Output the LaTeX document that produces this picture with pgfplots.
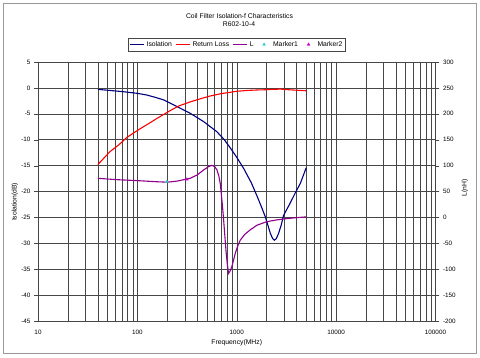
\documentclass[border=0pt]{standalone}
\usepackage{pgfplots}
\pgfplotsset{compat=1.18}
\usepackage{fontspec}
\setmainfont{Liberation Sans}
\definecolor{isoc}{RGB}{0,0,128}
\definecolor{rlc}{RGB}{255,0,0}
\definecolor{lc}{RGB}{140,0,140}
\definecolor{mkone}{RGB}{51,204,204}
\definecolor{mktwo}{RGB}{204,0,204}
\definecolor{gridc}{RGB}{70,70,70}
\pgfplotsset{shortline/.style={legend image code/.code={\draw[##1] (0pt,0pt) -- (14pt,0pt);}},
  markimg/.style={legend image code/.code={\path[draw=none,fill=none] (0pt,0pt) rectangle (14pt,0pt);\draw[##1] plot coordinates {(7pt,0pt)};}}}
\begin{document}
\begin{tikzpicture}[font=\fontsize{6.8}{8}\selectfont]
\path[use as bounding box] (0,0) rectangle (480pt,357pt);
\draw[gray!80, line width=0.8pt] (3pt,4pt) rectangle (476pt,354pt);
\node at (239.5pt,341.3pt) {Coil Filter Isolation-f Characteristics};
\node at (239pt,333pt) {R602-10-4};
\begin{axis}[at={(38pt,36pt)}, anchor=south west, scale only axis,
  width=397.5pt, height=259pt,
  xmode=log, log basis x=10, xmin=10, xmax=100000, ymin=-45, ymax=5,
  xtick={10,100,1000,10000,100000}, xticklabels={10,100,1000,10000,100000},
  minor xtick={20,30,40,50,60,70,80,90,200,300,400,500,600,700,800,900,
    2000,3000,4000,5000,6000,7000,8000,9000,20000,30000,40000,50000,60000,70000,80000,90000},
  ytick={-45,-40,...,5},
  yticklabels={-45,-40,-35,-30,-25,-20,-15,-10,-5,0,5},
  grid=both,
  major grid style={gridc, line width=0.5pt},
  minor grid style={gridc, line width=0.5pt},
  axis line style={gridc},
  tick align=outside, major tick length=4pt, minor tick length=0pt,
  xtick style={draw=none},
  ytick style={gridc},
  ticklabel style={font=\fontsize{6.3}{7}\selectfont},
  xticklabel style={yshift=-2pt},
  ylabel={Isolation(dB)},
  every axis y label/.style={at={(axis description cs:-0.058,0.46)}, rotate=90, anchor=center},
  xlabel={Frequency(MHz)},
  every axis x label/.style={at={(axis description cs:0.5,-0.085)}, anchor=center},
  legend columns=5,
  legend style={at={(0.5006,1.0676)}, anchor=center, draw=gridc, fill=white,
    font=\fontsize{6.8}{8}\selectfont, inner sep=1pt,
    /tikz/every even column/.append style={column sep=1.5pt}},
  legend cell align=left,
]
\addplot[isoc, line width=1.1pt, shortline] coordinates {
(40,-0.27) (50,-0.45) (72,-0.73) (100,-1.05) (124,-1.37) (150,-1.8) (183,-2.3)
(250,-3.6) (340,-4.9) (464,-6.5) (630,-8.45) (750,-10.0) (862,-11.6) (1000,-13.4)
(1178,-15.6) (1400,-18.3) (1610,-21.0) (1800,-23.3) (1940,-24.9) (2080,-26.8)
(2180,-28.1) (2300,-29.1) (2390,-29.4) (2500,-29.1) (2635,-28.1) (2800,-26.5)
(2960,-24.6) (3200,-23.4) (3457,-22.2) (3900,-20.2) (4370,-18.4) (4700,-16.8)
(5000,-15.4)
};
\addlegendentry{Isolation}
\addplot[rlc, line width=1.1pt, shortline] coordinates {
(40,-14.8) (53,-12.3) (65,-11.0) (78,-9.6) (95,-8.5) (115,-7.5) (135,-6.7)
(157,-5.9) (185,-5.1) (213,-4.4) (260,-3.5) (340,-2.7) (430,-2.1) (541,-1.56)
(700,-1.1) (862,-0.85) (1000,-0.65) (1255,-0.5) (1600,-0.4) (2000,-0.35)
(2300,-0.25) (2500,-0.3) (2700,-0.2) (3000,-0.3) (4000,-0.45) (5000,-0.55)
};
\addlegendentry{Return Loss}
\addlegendimage{lc, line width=1.1pt, shortline}
\addlegendentry{L}
\addlegendimage{only marks, mark=triangle*, mark size=1.6pt, color=mkone, markimg}
\addlegendentry{Marker1}
\addlegendimage{only marks, mark=triangle*, mark size=1.6pt, color=mktwo, markimg}
\addlegendentry{Marker2}
\end{axis}
\begin{axis}[at={(38pt,36pt)}, anchor=south west, scale only axis,
  width=397.5pt, height=259pt,
  xmode=log, log basis x=10, xmin=10, xmax=100000, ymin=-200, ymax=300,
  axis y line*=right, axis x line=none,
  ytick={-200,-150,...,300},
  yticklabels={-200,-150,-100,-50,0,50,100,150,200,250,300},
  tick align=outside, major tick length=4pt,
  axis line style={gridc}, ytick style={gridc},
  ticklabel style={font=\fontsize{6.3}{7}\selectfont},
  ylabel={L(nH)},
  every axis y label/.style={at={(axis description cs:1.074,0.515)}, rotate=90, anchor=center},
]
\addplot[lc, line width=1.1pt] coordinates {
(40,75.5) (60,73) (100,71) (150,69) (200,68) (250,70) (340,75.5) (400,82)
(464,91.5) (520,98) (562,100.5) (600,98) (633,91.5) (660,80) (682,66) (700,45)
(720,20) (740,-8) (760,-37) (780,-65) (802,-89) (827,-108) (860,-103) (893,-95)
(930,-82) (967,-69) (1020,-56) (1084,-44) (1200,-33) (1366,-24) (1600,-15)
(2002,-8.3) (2500,-5) (2960,-3) (4000,-0.5) (5000,1)
};
\addplot[only marks, mark=triangle*, mark size=1.6pt, color=mkone] coordinates {(198,69)};
\addplot[only marks, mark=triangle*, mark size=1.6pt, color=mktwo] coordinates {(315,73.6)};
\end{axis}
\end{tikzpicture}
\end{document}
